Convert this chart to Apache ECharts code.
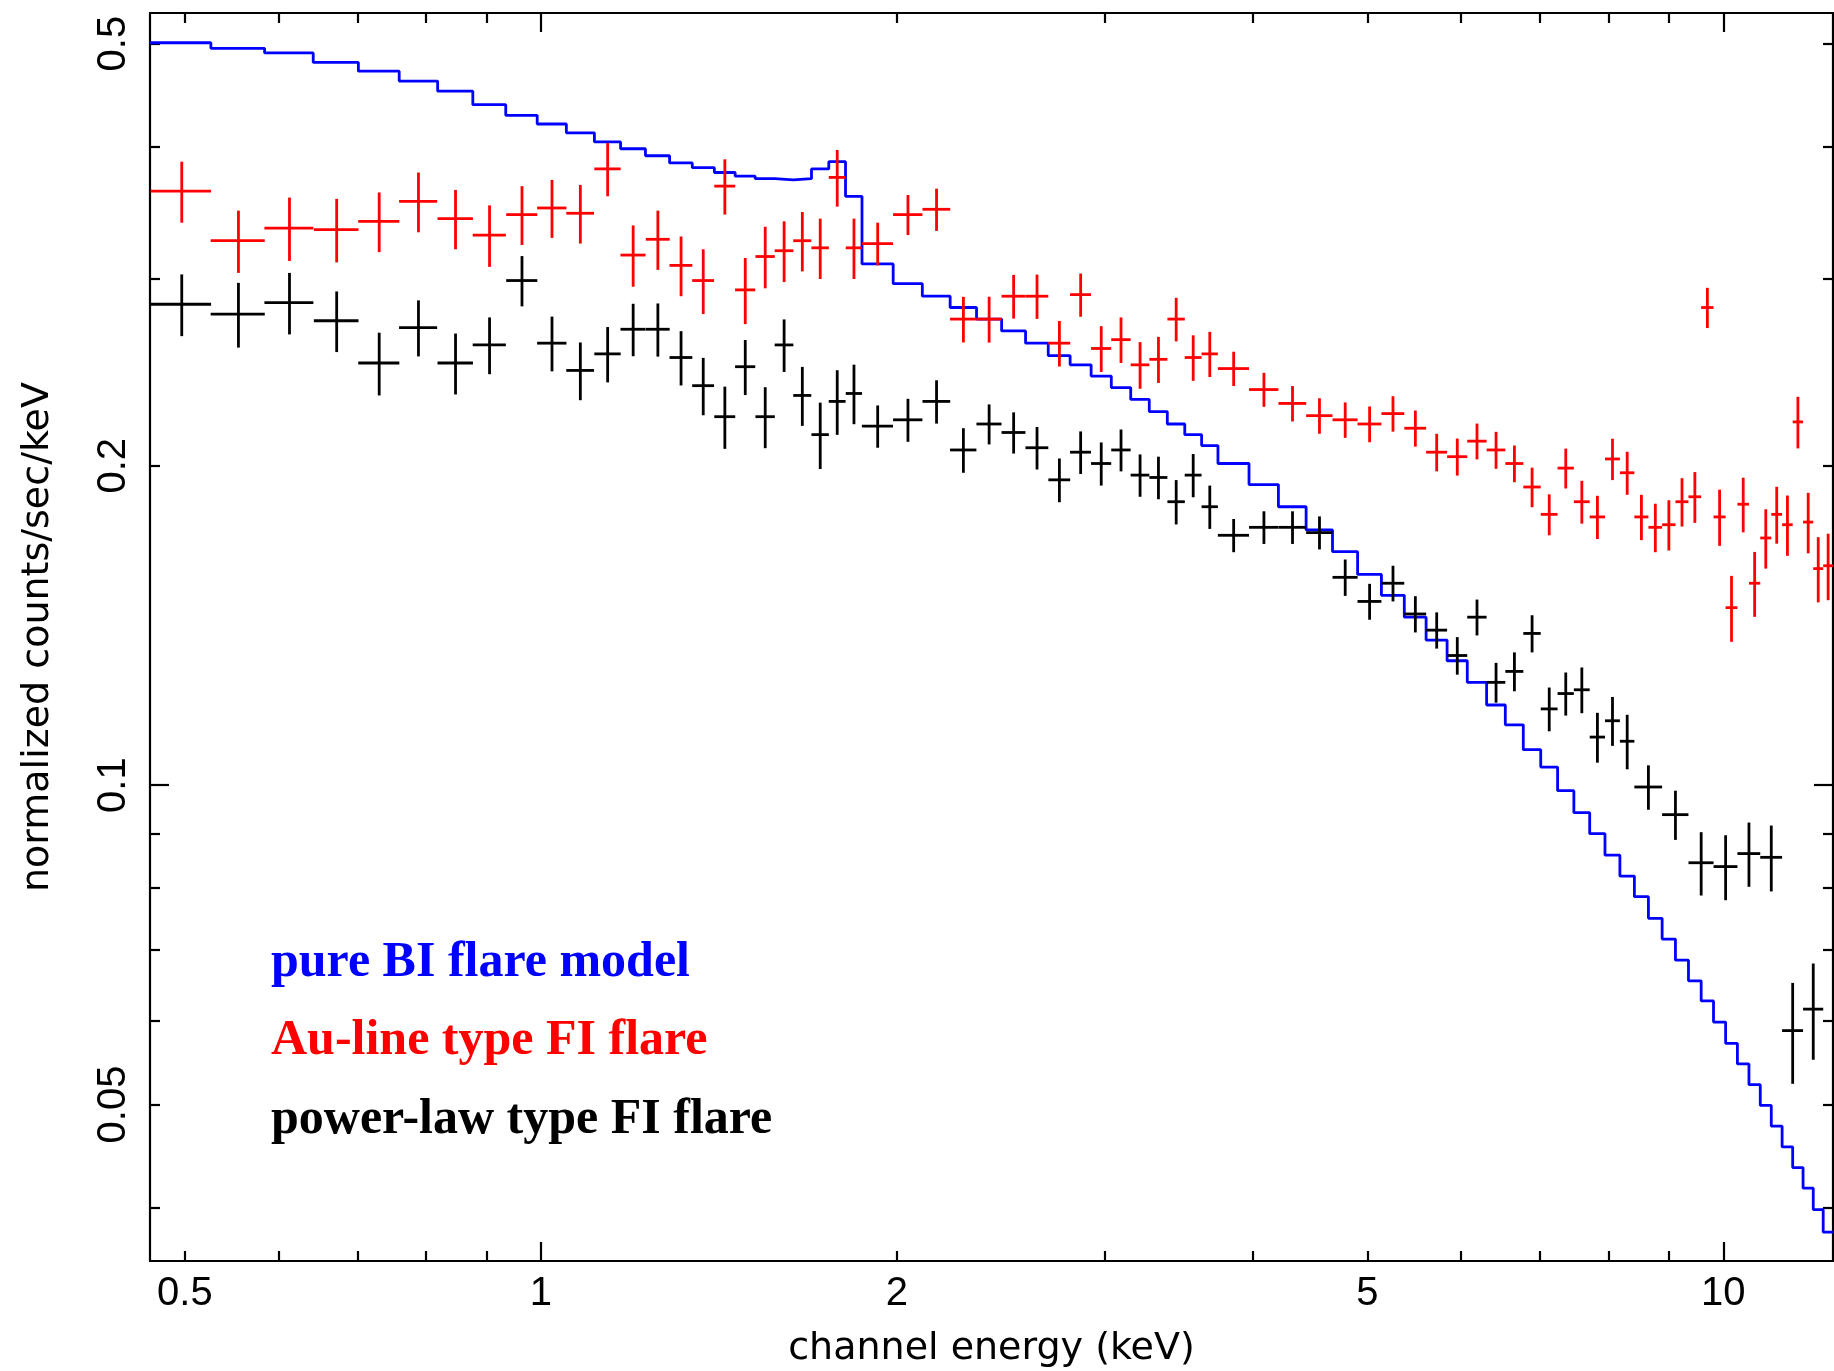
<!DOCTYPE html>
<html>
<head>
<meta charset="utf-8">
<title>Flare spectra</title>
<script src="https://cdn.jsdelivr.net/npm/echarts@6.0.0/dist/echarts.min.js"></script>
<style>
  html, body { margin: 0; padding: 0; background: #ffffff; }
  #chart { width: 1834px; height: 1371px; }
</style>
</head>
<body>
<div id="chart"></div>
<script>
// Axis ranges (keV, counts/sec/keV)
const energyRange = [0.4672, 12.381];
const rateRange = [0.0356, 0.5344];

// Tick positions and labels
const xLabelValues = [0.5, 1, 2, 5, 10];
const xMinorTickValues = [0.5, 0.6, 0.7, 0.8, 0.9, 2, 3, 4, 5, 6, 7, 8, 9];
const xMajorTickValues = [1, 10];
const yLabelValues = [0.05, 0.1, 0.2, 0.5];
const yMinorTickValues = [0.04, 0.05, 0.06, 0.07, 0.08, 0.09, 0.2, 0.3, 0.4, 0.5];
const yMajorTickValues = [0.1];

// Pure BI flare model: histogram bin edges (keV) and rate per bin
const modelEdges = [
  0.467, 0.526, 0.584, 0.642, 0.701, 0.759, 0.818, 0.876, 0.934, 0.993, 1.051, 1.110,
  1.168, 1.226, 1.285, 1.343, 1.402, 1.460, 1.518, 1.577, 1.635, 1.694, 1.752, 1.810, 1.869,
  1.986, 2.102, 2.219, 2.336, 2.453, 2.570, 2.686, 2.803, 2.920, 3.037, 3.154, 3.270, 3.387,
  3.504, 3.621, 3.738,
  3.971, 4.205, 4.438, 4.672, 4.906, 5.139, 5.373, 5.606, 5.840, 6.074, 6.307, 6.541, 6.774,
  7.008, 7.242, 7.475, 7.709, 7.942, 8.176, 8.410, 8.643, 8.877, 9.110, 9.344, 9.578, 9.811,
  10.045, 10.278, 10.512, 10.746, 10.979, 11.213, 11.446, 11.680, 11.914, 12.147, 12.381
];
const modelRate = [
  0.501, 0.495, 0.490, 0.480, 0.471, 0.461, 0.451, 0.438, 0.428, 0.420, 0.412, 0.404,
  0.398, 0.392, 0.386, 0.382, 0.378, 0.375, 0.373, 0.372, 0.373, 0.381, 0.387, 0.359,
  0.310, 0.297, 0.289, 0.282, 0.275, 0.268, 0.261, 0.254, 0.249, 0.243, 0.237, 0.231, 0.225, 0.219, 0.214, 0.209,
  0.201, 0.192, 0.183, 0.174, 0.166, 0.158, 0.151, 0.144, 0.137, 0.131, 0.125, 0.119, 0.114, 0.108, 0.104, 0.0988,
  0.0942, 0.0900, 0.0859, 0.0821, 0.0785, 0.0749, 0.0716, 0.0684, 0.0654, 0.0626, 0.0598, 0.0571, 0.0546,
  0.0522, 0.0499, 0.0477, 0.0456, 0.0436, 0.0417, 0.0398, 0.0379
];

// Au-line type FI flare: bin centre, bin half width, rate, 1-sigma error
const auEnergy = [
  0.497, 0.555, 0.613, 0.672, 0.730, 0.788, 0.847, 0.905, 0.964, 1.022, 1.080, 1.139,
  1.197, 1.256, 1.314, 1.372, 1.431, 1.489, 1.548, 1.606, 1.664, 1.723, 1.781, 1.840,
  1.927, 2.044, 2.161, 2.277, 2.394, 2.511, 2.628, 2.745, 2.861, 2.978, 3.095, 3.212, 3.329, 3.446, 3.562, 3.679,
  3.854, 4.088, 4.322, 4.555, 4.789, 5.022, 5.256, 5.490, 5.723, 5.957, 6.190, 6.424, 6.658, 6.891, 7.125, 7.358,
  7.592, 7.826, 8.059, 8.293, 8.526, 8.760, 8.994, 9.227, 9.461, 9.694, 9.928, 10.161, 10.395, 10.629, 10.862,
  11.096, 11.330, 11.563, 11.797, 12.030, 12.264
];
const auHalfWidth = [
  0.0292, 0.0292, 0.0292, 0.0292, 0.0292, 0.0292, 0.0292, 0.0292, 0.0292, 0.0292, 0.0292, 0.0292,
  0.0292, 0.0292, 0.0292, 0.0292, 0.0292, 0.0292, 0.0292, 0.0292, 0.0292, 0.0292, 0.0292, 0.0292,
  0.0584, 0.0584, 0.0584, 0.0584, 0.0584, 0.0584, 0.0584, 0.0584, 0.0584, 0.0584, 0.0584, 0.0584, 0.0584, 0.0584, 0.0584, 0.0584,
  0.1168, 0.1168, 0.1168, 0.1168, 0.1168, 0.1168, 0.1168, 0.1168, 0.1168, 0.1168, 0.1168, 0.1168, 0.1168, 0.1168, 0.1168, 0.1168,
  0.1168, 0.1168, 0.1168, 0.1168, 0.1168, 0.1168, 0.1168, 0.1168, 0.1168, 0.1168, 0.1168, 0.1168, 0.1168, 0.1168, 0.1168,
  0.1168, 0.1168, 0.1168, 0.1168, 0.1168, 0.1168
];
const auRate = [
  0.363, 0.326, 0.335, 0.334, 0.340, 0.355, 0.342, 0.330, 0.345, 0.350, 0.346, 0.381,
  0.316, 0.327, 0.309, 0.299, 0.367, 0.293, 0.315, 0.319, 0.326, 0.321, 0.374, 0.321,
  0.324, 0.345, 0.349, 0.275, 0.275, 0.289, 0.289, 0.261, 0.290, 0.258, 0.263, 0.249, 0.252, 0.275, 0.253, 0.255,
  0.247, 0.236, 0.229, 0.223, 0.221, 0.219, 0.224, 0.217, 0.206, 0.204, 0.211, 0.207, 0.201, 0.191, 0.180, 0.199,
  0.185, 0.179, 0.203, 0.197, 0.179, 0.175, 0.176, 0.185, 0.187, 0.282, 0.179, 0.147, 0.184, 0.155, 0.171,
  0.180, 0.176, 0.220, 0.177, 0.160, 0.161
];
const auError = [
  0.024, 0.022, 0.023, 0.023, 0.022, 0.023, 0.022, 0.022, 0.022, 0.022, 0.022, 0.022,
  0.021, 0.021, 0.020, 0.021, 0.022, 0.021, 0.021, 0.021, 0.021, 0.021, 0.023, 0.021,
  0.015, 0.015, 0.016, 0.0136, 0.0137, 0.0137, 0.0139, 0.0129, 0.0136, 0.0128, 0.0130, 0.0126, 0.0126, 0.0130, 0.0125, 0.0125,
  0.0092, 0.0087, 0.0088, 0.0086, 0.0085, 0.0085, 0.0086, 0.0085, 0.0084, 0.0082, 0.0082, 0.0083, 0.0080, 0.0082, 0.0080, 0.0086,
  0.0086, 0.0084, 0.0091, 0.0092, 0.0088, 0.0092, 0.0096, 0.0097, 0.0103, 0.0123, 0.0109, 0.0105, 0.0109, 0.0109, 0.0110,
  0.0111, 0.0115, 0.0123, 0.0116, 0.0113, 0.0116
];

// Power-law type FI flare: bin centre, bin half width, rate, 1-sigma error
const plEnergy = [
  0.497, 0.555, 0.613, 0.672, 0.730, 0.788, 0.847, 0.905, 0.964, 1.022, 1.080, 1.139,
  1.197, 1.256, 1.314, 1.372, 1.431, 1.489, 1.548, 1.606, 1.664, 1.723, 1.781, 1.840,
  1.927, 2.044, 2.161, 2.277, 2.394, 2.511, 2.628, 2.745, 2.861, 2.978, 3.095, 3.212, 3.329, 3.446, 3.562, 3.679,
  3.854, 4.088, 4.322, 4.555, 4.789, 5.022, 5.256, 5.490, 5.723, 5.957, 6.190, 6.424, 6.658, 6.891, 7.125, 7.358,
  7.592, 7.826, 8.059, 8.293,
  8.643, 9.110, 9.578, 10.045, 10.512, 10.979, 11.446, 11.914
];
const plHalfWidth = [
  0.0292, 0.0292, 0.0292, 0.0292, 0.0292, 0.0292, 0.0292, 0.0292, 0.0292, 0.0292, 0.0292, 0.0292,
  0.0292, 0.0292, 0.0292, 0.0292, 0.0292, 0.0292, 0.0292, 0.0292, 0.0292, 0.0292, 0.0292, 0.0292,
  0.0584, 0.0584, 0.0584, 0.0584, 0.0584, 0.0584, 0.0584, 0.0584, 0.0584, 0.0584, 0.0584, 0.0584, 0.0584, 0.0584, 0.0584, 0.0584,
  0.1168, 0.1168, 0.1168, 0.1168, 0.1168, 0.1168, 0.1168, 0.1168, 0.1168, 0.1168, 0.1168, 0.1168, 0.1168, 0.1168, 0.1168, 0.1168,
  0.1168, 0.1168, 0.1168, 0.1168,
  0.2336, 0.2336, 0.2336, 0.2336, 0.2336, 0.2336, 0.2336, 0.2336
];
const plRate = [
  0.284, 0.278, 0.285, 0.274, 0.250, 0.270, 0.250, 0.260, 0.299, 0.261, 0.246, 0.255,
  0.269, 0.269, 0.253, 0.238, 0.2225, 0.248, 0.2225, 0.260, 0.233, 0.214, 0.230, 0.234,
  0.218, 0.221, 0.230, 0.207, 0.219, 0.215, 0.208, 0.194, 0.206, 0.201, 0.207, 0.196, 0.195, 0.185, 0.196, 0.183,
  0.172, 0.175, 0.175, 0.173, 0.157, 0.149, 0.155, 0.145, 0.140, 0.1325, 0.144, 0.125, 0.128, 0.139, 0.118, 0.122,
  0.123, 0.111, 0.115, 0.110,
  0.0996, 0.0938, 0.0845, 0.0838, 0.0862, 0.0855, 0.0587, 0.0615
];
const plError = [
  0.019, 0.0195, 0.019, 0.018, 0.017, 0.0164, 0.0165, 0.016, 0.0163, 0.0155, 0.0154, 0.0153,
  0.0153, 0.0155, 0.0149, 0.0148, 0.015, 0.0148, 0.0147, 0.0148, 0.0149, 0.0154, 0.0161, 0.0151,
  0.0100, 0.0103, 0.0108, 0.0100, 0.0095, 0.0096, 0.0096, 0.0092, 0.0095, 0.0094, 0.0094, 0.0090, 0.0090, 0.0089, 0.0092, 0.0086,
  0.0062, 0.0062, 0.0062, 0.0062, 0.0062, 0.0058, 0.0060, 0.0057, 0.0055, 0.0054, 0.0056, 0.0054, 0.0054, 0.0056, 0.0056, 0.0057,
  0.0061, 0.0060, 0.0061, 0.0065,
  0.0048, 0.0050, 0.0058, 0.0059, 0.0060, 0.0061, 0.0064, 0.0064
];

// Legend entries (plain coloured text, no symbols)
const legendNames = ['pure BI flare model', 'Au-line type FI flare', 'power-law type FI flare'];
const legendColors = ['#0000ff', '#ff0000', '#000000'];

const chart = echarts.init(document.getElementById('chart'), null, { renderer: 'canvas' });

const tickLabelFont = { fontFamily: 'Liberation Sans', fontSize: 40, color: '#000000' };
const titleFont = { fontFamily: 'DejaVu Sans', fontSize: 38, color: '#000000' };
const fmt = v => String(+Number(v).toPrecision(6));

// One log axis; several are stacked per side so ticks can have two lengths
function logAxis(dim, position, tickValues, tickLength, extra) {
  const isX = dim === 'x';
  const range = isX ? energyRange : rateRange;
  return Object.assign({
    type: 'log',
    logBase: 10,
    position: position,
    min: range[0],
    max: range[1],
    axisLine: { show: true, onZero: false, lineStyle: { color: '#000000', width: 2.2 } },
    axisTick: {
      show: true, inside: true, length: tickLength, customValues: tickValues,
      lineStyle: { color: '#000000', width: 2.2 }
    },
    axisLabel: { show: false },
    splitLine: { show: false },
    minorTick: { show: false },
    minorSplitLine: { show: false },
    axisPointer: { show: false },
    silent: true
  }, extra || {});
}

const xAxes = [
  logAxis('x', 'bottom', xMinorTickValues, 10, {
    axisLabel: Object.assign({ show: true, customValues: xLabelValues, formatter: fmt, margin: 13 }, tickLabelFont),
    name: 'channel energy (keV)',
    nameLocation: 'middle',
    nameGap: 69,
    nameMoveOverlap: false,
    nameTextStyle: titleFont
  }),
  logAxis('x', 'bottom', xMajorTickValues, 19, { axisLine: { show: false } }),
  logAxis('x', 'top', xMinorTickValues, 10),
  logAxis('x', 'top', xMajorTickValues, 19, { axisLine: { show: false } })
];

const yAxes = [
  logAxis('y', 'left', yMinorTickValues, 10, {
    axisLabel: Object.assign({ show: true, customValues: yLabelValues, formatter: fmt, rotate: 90, margin: 16 }, tickLabelFont),
    name: 'normalized counts/sec/keV',
    nameLocation: 'middle',
    nameGap: 93,
    nameMoveOverlap: false,
    nameTextStyle: titleFont
  }),
  logAxis('y', 'left', yMajorTickValues, 19, { axisLine: { show: false } }),
  logAxis('y', 'right', yMinorTickValues, 10),
  logAxis('y', 'right', yMajorTickValues, 19, { axisLine: { show: false } })
];

// Histogram points: each bin's level is held from its low edge to the next edge
const modelSteps = modelEdges.map((e, i) => [e, modelRate[Math.min(i, modelRate.length - 1)]]);

function crossSeries(name, energy, halfWidth, rate, error, color, z) {
  return {
    type: 'custom',
    name: name,
    z: z,
    silent: true,
    animation: false,
    xAxisIndex: 0,
    yAxisIndex: 0,
    data: energy.map((e, i) => [e, rate[i], halfWidth[i], error[i]]),
    encode: { x: 0, y: 1 },
    renderItem: function (params, api) {
      const e = api.value(0), r = api.value(1), hw = api.value(2), er = api.value(3);
      const left = api.coord([e - hw, r]);
      const right = api.coord([e + hw, r]);
      const top = api.coord([e, r + er]);
      const bottom = api.coord([e, r - er]);
      const style = { stroke: color, lineWidth: 2.8, fill: null };
      return {
        type: 'group',
        children: [
          { type: 'line', shape: { x1: left[0], y1: left[1], x2: right[0], y2: right[1] }, style: style },
          { type: 'line', shape: { x1: top[0], y1: top[1], x2: bottom[0], y2: bottom[1] }, style: style }
        ]
      };
    }
  };
}

const legendBaselines = [963.5, 1041.5, 1120];

chart.setOption({
  animation: false,
  backgroundColor: '#ffffff',
  grid: { left: 150, right: 1, top: 13, bottom: 110, containLabel: false, outerBoundsMode: 'none' },
  xAxis: xAxes,
  yAxis: yAxes,
  series: [
    {
      type: 'line',
      name: legendNames[0],
      data: modelSteps,
      step: 'end',
      symbol: 'none',
      showSymbol: false,
      xAxisIndex: 0,
      yAxisIndex: 0,
      lineStyle: { color: legendColors[0], width: 2.8 },
      itemStyle: { color: legendColors[0] },
      z: 2,
      silent: true
    },
    crossSeries(legendNames[2], plEnergy, plHalfWidth, plRate, plError, legendColors[2], 3),
    crossSeries(legendNames[1], auEnergy, auHalfWidth, auRate, auError, legendColors[1], 4)
  ],
  graphic: legendNames.map((name, i) => ({
    type: 'text',
    x: 271,
    y: legendBaselines[i],
    silent: true,
    style: {
      text: name,
      fill: legendColors[i],
      font: 'bold 50px "Liberation Serif"',
      verticalAlign: 'middle',
      align: 'left'
    }
  }))
});
</script>
</body>
</html>
